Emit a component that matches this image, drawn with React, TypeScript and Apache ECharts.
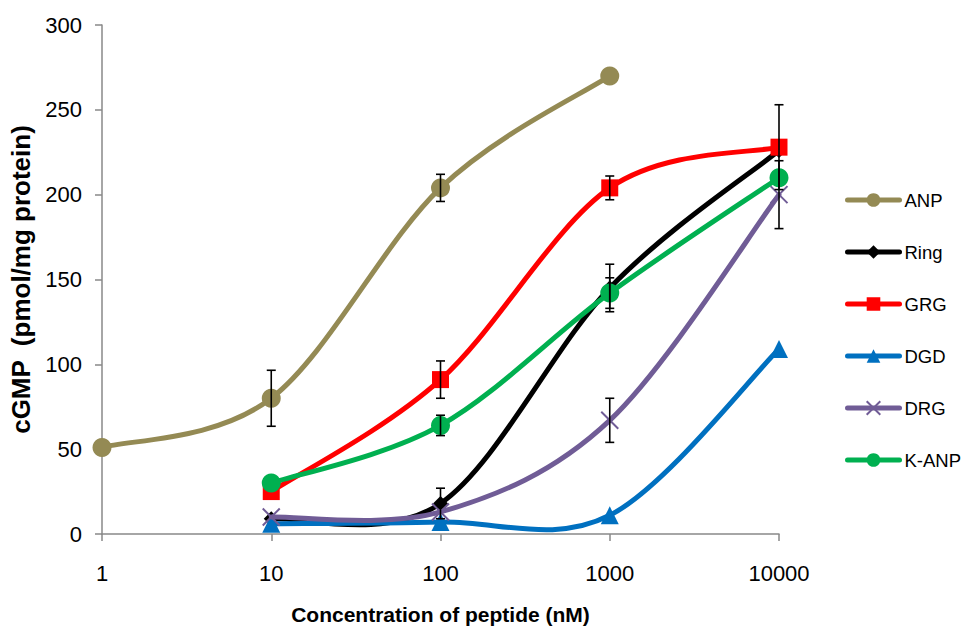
import React, { useEffect, useRef } from "react";
import * as echarts from "echarts";

const CONC = [1, 10, 100, 1000, 10000];
const SERIES_NAMES = ["ANP", "Ring", "GRG", "DGD", "DRG", "K-ANP"];
// values at concentrations 1, 10, 100, 1000, 10000 (null = not measured)
const ANP = [51, 80, 204, 270, null];
const RING = [null, 9, 18, 145, 226];
const GRG = [null, 25, 91, 204, 228];
const DGD = [null, 6, 7, 11, 109];
const DRG = [null, 10, 13, 67, 200];
const KANP = [null, 30, 64, 142, 210];
// error bar half-widths (0 = none)
const ANP_ERR = [0, 16.5, 8, 0, 0];
const RING_ERR = [0, 0, 9, 14, 0];
const GRG_ERR = [0, 0, 11, 7, 25];
const DGD_ERR = [0, 0, 0, 0, 0];
const DRG_ERR = [0, 0, 0, 13, 20];
const KANP_ERR = [0, 0, 6, 9, 0];
const Y_TICKS = [0, 50, 100, 150, 200, 250, 300];

const COLORS = ["#948A54", "#000000", "#FF0000", "#0070C0", "#705C96", "#00B050"];
const SYMBOLS = [
  "circle",
  "diamond",
  "rect",
  "triangle",
  "path://M0,0L10,10M10,0L0,10",
  "circle",
];
const SIZES = [19, 15, 17, 18, 17, 19];

const FONT = "'Liberation Sans', Arial, sans-serif";

export default function App() {
  const ref = useRef<HTMLDivElement>(null);
  useEffect(() => {
    if (!ref.current) return;
    const chart = echarts.init(ref.current, undefined, { renderer: "svg" });
    const vals = [ANP, RING, GRG, DGD, DRG, KANP];
    const errs = [ANP_ERR, RING_ERR, GRG_ERR, DGD_ERR, DRG_ERR, KANP_ERR];

    const series: any[] = [];
    vals.forEach((arr, i) => {
      const pts = CONC.map((c, j) => [c, arr[j]]).filter((d) => d[1] !== null) as number[][];
      // smoothed curve (Bezier spline through the points, like a spreadsheet's smoothed line)
      series.push({
        name: "_curve" + i,
        type: "custom",
        silent: true,
        z: 2 + i,
        data: pts.slice(0, -1).map((p, k) => [p[0], p[1], k]),
        encode: { x: 0, y: 1 },
        renderItem: (params: any, api: any) => {
          const k = api.value(2);
          const P = (m: number) => {
            const q = pts[Math.max(0, Math.min(pts.length - 1, m))];
            return api.coord([q[0], q[1]]);
          };
          const p0 = P(k - 1);
          const p1 = P(k);
          const p2 = P(k + 1);
          const p3 = P(k + 2);
          const t = 1 / 6;
          return {
            type: "bezierCurve",
            shape: {
              x1: p1[0],
              y1: p1[1],
              x2: p2[0],
              y2: p2[1],
              cpx1: p1[0] + (p2[0] - p0[0]) * t,
              cpy1: p1[1] + (p2[1] - p0[1]) * t,
              cpx2: p2[0] - (p3[0] - p1[0]) * t,
              cpy2: p2[1] - (p3[1] - p1[1]) * t,
            },
            style: { stroke: COLORS[i], lineWidth: 5, fill: "none", lineCap: "round" },
          };
        },
      });
      // markers
      series.push({
        name: SERIES_NAMES[i],
        type: "line",
        symbol: SYMBOLS[i],
        symbolSize: SIZES[i],
        showAllSymbol: true,
        data: pts,
        lineStyle: { color: COLORS[i], width: 5, opacity: 0 },
        itemStyle:
          i === 4
            ? { color: COLORS[i], borderColor: COLORS[i], borderWidth: 2 }
            : { color: COLORS[i], borderWidth: 0 },
        z: 2 + i,
      });
    });

    const errData: number[][] = [];
    vals.forEach((arr, i) => {
      CONC.forEach((c, j) => {
        const v = arr[j];
        const e = errs[i][j];
        if (v !== null && e > 0) errData.push([c, v as number, e]);
      });
    });

    series.push({
      name: "_err",
      type: "custom",
      z: 20,
      silent: true,
      data: errData,
      encode: { x: 0, y: 1 },
      renderItem: (params: any, api: any) => {
        const x = api.value(0);
        const y = api.value(1);
        const e = api.value(2);
        const top = api.coord([x, y + e]);
        const bot = api.coord([x, y - e]);
        const w = 4.5;
        const style = { stroke: "#000", lineWidth: 1.6 };
        return {
          type: "group",
          children: [
            { type: "line", shape: { x1: top[0], y1: top[1], x2: bot[0], y2: bot[1] }, style },
            { type: "line", shape: { x1: top[0] - w, y1: top[1], x2: top[0] + w, y2: top[1] }, style },
            { type: "line", shape: { x1: bot[0] - w, y1: bot[1], x2: bot[0] + w, y2: bot[1] }, style },
          ],
        };
      },
    });

    chart.setOption({
      animation: false,
      backgroundColor: "#ffffff",
      grid: { left: 102, right: 184, top: 25, bottom: 96, containLabel: false },
      legend: {
        orient: "vertical",
        left: 840,
        top: 185,
        padding: 5,
        itemWidth: 52,
        itemHeight: 17,
        itemGap: 32,
        data: SERIES_NAMES,
        lineStyle: { width: 5, opacity: 1, cap: "round" },
        textStyle: { fontFamily: FONT, fontSize: 18.5, color: "#000", lineHeight: 20 },
      },
      xAxis: {
        type: "log",
        logBase: 10,
        min: 1,
        max: 10000,
        name: "Concentration of peptide (nM)",
        nameLocation: "middle",
        nameGap: 70,
        nameTextStyle: { fontFamily: FONT, fontSize: 21, fontWeight: "bold", color: "#000" },
        axisLine: { lineStyle: { color: "#898989", width: 1.5 } },
        axisTick: { show: true, length: 7, lineStyle: { color: "#898989", width: 1.5 } },
        minorTick: { show: false },
        splitLine: { show: false },
        axisLabel: {
          fontFamily: FONT,
          fontSize: 22,
          color: "#000",
          margin: 28,
          formatter: (v: number) => String(Math.round(v)),
        },
      },
      yAxis: {
        type: "value",
        min: Y_TICKS[0],
        max: Y_TICKS[Y_TICKS.length - 1],
        interval: 50,
        name: "cGMP  (pmol/mg protein)",
        nameLocation: "middle",
        nameGap: 57,
        nameTextStyle: { fontFamily: FONT, fontSize: 26, fontWeight: "bold", color: "#000" },
        axisLine: { show: true, lineStyle: { color: "#898989", width: 1.5 } },
        axisTick: { show: true, length: 7, lineStyle: { color: "#898989", width: 1.5 } },
        splitLine: { show: false },
        axisLabel: { fontFamily: FONT, fontSize: 22, color: "#000", margin: 20 },
      },
      series,
    });
    return () => chart.dispose();
  }, []);
  return <div ref={ref} style={{ width: 963, height: 630, position: "absolute", left: 0, top: 0 }} />;
}
